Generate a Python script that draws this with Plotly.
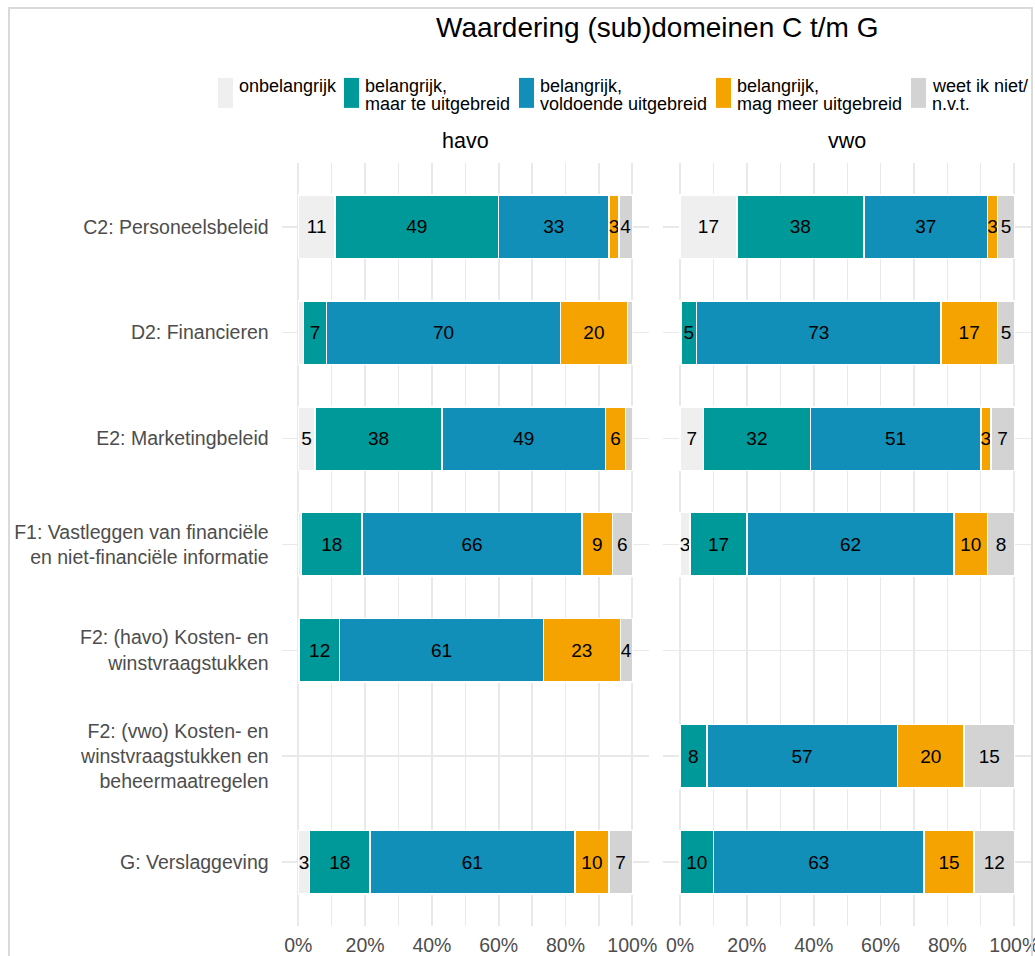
import plotly.graph_objects as go

# ---------------- data ----------------
categories = [
    "C2: Personeelsbeleid",
    "D2: Financieren",
    "E2: Marketingbeleid",
    "F1: Vastleggen van financiële<br>en niet-financiële informatie",
    "F2: (havo) Kosten- en<br>winstvraagstukken",
    "F2: (vwo) Kosten- en<br>winstvraagstukken en<br>beheermaatregelen",
    "G: Verslaggeving",
]
series_names = [
    "onbelangrijk",
    "belangrijk,\nmaar te uitgebreid",
    "belangrijk,\nvoldoende uitgebreid",
    "belangrijk,\nmag meer uitgebreid",
    "weet ik niet/\nn.v.t.",
]
series_colors = ["#EFEFEF", "#00999A", "#118FB8", "#F4A300", "#D3D3D3"]

havo_categories = [categories[i] for i in (0, 1, 2, 3, 4, 6)]
havo_onbelangrijk = [11, 1.5, 5, 1, 0.4, 3.4]
havo_te_uitgebreid = [49, 7, 38, 18, 12, 18]
havo_voldoende = [33, 70, 49, 66, 61, 61.4]
havo_meer = [3, 20, 6, 9, 23, 10.2]
havo_weet = [4, 1.5, 2, 6, 3.6, 7]

vwo_categories = [categories[i] for i in (0, 1, 2, 3, 5, 6)]
vwo_onbelangrijk = [17, 0.3, 7, 3, 0, 0]
vwo_te_uitgebreid = [38, 4.7, 32, 17, 8, 10]
vwo_voldoende = [37, 73, 51, 62, 57, 63]
vwo_meer = [3, 17, 3, 10, 20, 15]
vwo_weet = [5, 5, 7, 8, 15, 12]

panels = ["havo", "vwo"]
x_tick_vals = [0, 20, 40, 60, 80, 100]
x_tick_text = ["0%", "20%", "40%", "60%", "80%", "100%"]
title_text = "Waardering (sub)domeinen C t/m G"

# ---------------- figure ----------------
W, H = 1035, 956
FIG_W = 1043
FONT = "Liberation Sans, Arial, sans-serif"


def px(x):
    return x / W


def py(y):
    return 1 - y / H


def lbl(v):
    return f"{v:.0f}" if v >= 2.5 else ""


fig = go.Figure()

panel_data = [
    ("x", "y", havo_categories,
     [havo_onbelangrijk, havo_te_uitgebreid, havo_voldoende, havo_meer, havo_weet]),
    ("x2", "y2", vwo_categories,
     [vwo_onbelangrijk, vwo_te_uitgebreid, vwo_voldoende, vwo_meer, vwo_weet]),
]

for xa, ya, cats, series in panel_data:
    for name, color, vals in zip(series_names, series_colors, series):
        fig.add_trace(go.Bar(
            y=cats, x=vals, orientation="h", name=name.replace("\n", " "),
            xaxis=xa, yaxis=ya, width=0.6,
            marker=dict(color=color, line=dict(color="white", width=1.5)),
            text=[lbl(v) for v in vals], textposition="inside",
            insidetextanchor="middle", textangle=0, constraintext="none",
            textfont=dict(family=FONT, size=19, color="black"),
            showlegend=False, hoverinfo="skip",
        ))

grid = "#E9E9E9"
xcommon = dict(range=[-5, 105], tickvals=x_tick_vals, ticktext=x_tick_text,
               showgrid=True, gridcolor=grid, gridwidth=1.6, zeroline=False,
               showline=False, ticks="", ticklabelstandoff=6,
               tickfont=dict(family=FONT, size=19.5, color="#4D4D4D"),
               minor=dict(dtick=10, tick0=0, showgrid=True, gridcolor=grid, gridwidth=1.2),
               fixedrange=True)
ycommon = dict(type="category", categoryorder="array", categoryarray=categories,
               range=[6.6, -0.6], showgrid=True, gridcolor=grid, gridwidth=1.6,
               zeroline=False, showline=False, ticks="", fixedrange=True,
               domain=[py(926.6), py(163.4)])

fig.update_layout(
    width=FIG_W, height=H, autosize=False,
    margin=dict(l=0, r=0, t=0, b=0),
    paper_bgcolor="white", plot_bgcolor="white",
    barmode="stack",
    font=dict(family=FONT, color="black"),
    xaxis=dict(domain=[px(281.6), px(649.0)], anchor="y", **xcommon),
    xaxis2=dict(domain=[px(663.3), px(1031.0)], anchor="y2", **xcommon),
    yaxis=dict(anchor="x", showticklabels=True, ticklabelstandoff=12,
               tickfont=dict(family=FONT, size=19.5, color="#4D4D4D"), **ycommon),
    yaxis2=dict(anchor="x2", matches="y", showticklabels=False, **ycommon),
)

annotations = []
shapes = []

# title
annotations.append(dict(text=title_text, x=px(657), y=py(28), xref="paper", yref="paper",
                        xanchor="center", yanchor="middle", showarrow=False,
                        font=dict(family=FONT, size=28, color="black")))

# strip labels
for name, cx in zip(panels, [465.3, 847.2]):
    annotations.append(dict(text=name, x=px(cx), y=py(141), xref="paper", yref="paper",
                            xanchor="center", yanchor="middle", showarrow=False,
                            font=dict(family=FONT, size=21.5, color="black")))

# custom legend
key_x = [218, 344, 519, 716, 911]
for kx, name, color in zip(key_x, series_names, series_colors):
    shapes.append(dict(type="rect", xref="paper", yref="paper",
                       x0=px(kx), x1=px(kx + 15), y0=py(108), y1=py(78),
                       fillcolor=color, line=dict(width=0), layer="above"))
    for i, line in enumerate(name.split("\n")):
        annotations.append(dict(text=line, x=px(kx + 19), y=py(86 + 18 * i),
                                xref="paper", yref="paper", xanchor="left",
                                yanchor="middle", showarrow=False,
                                font=dict(family=FONT, size=18, color="black")))

# outer frame
shapes.append(dict(type="rect", xref="paper", yref="paper",
                   x0=px(9), x1=px(1032), y0=-0.05, y1=py(8),
                   line=dict(color="#DADADA", width=2), fillcolor="rgba(0,0,0,0)",
                   layer="above"))

fig.update_layout(annotations=annotations, shapes=shapes)

fig.write_html(
    "out.html",
    config={"displayModeBar": False, "responsive": False, "staticPlot": True},
    post_script=(
        "document.documentElement.style.margin='0';"
        "document.body.style.margin='0';"
        "document.body.style.padding='0';"
    ),
)
